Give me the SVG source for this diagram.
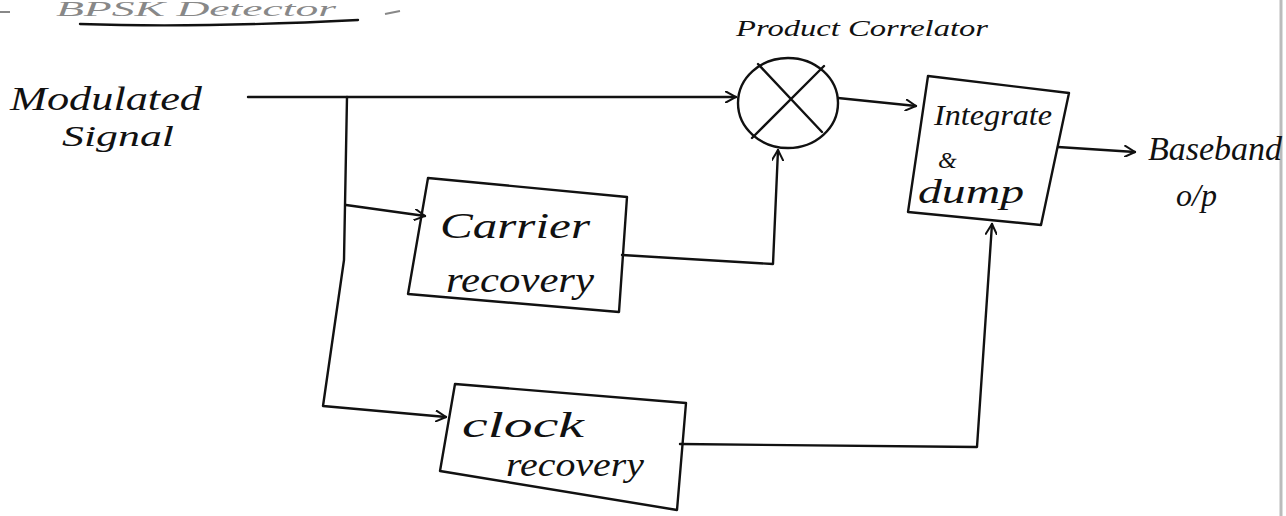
<svg xmlns="http://www.w3.org/2000/svg" width="1286" height="516" viewBox="0 0 1286 516">
<style>
.ln{fill:none;stroke:#111;stroke-width:2.4;stroke-linecap:round;stroke-linejoin:round}
.box{fill:none;stroke:#111;stroke-width:2.4;stroke-linejoin:round}
.t{font-family:"Liberation Serif",serif;font-style:italic;fill:#111}
.g{fill:#888}
</style>
<defs>
<marker id="ah" viewBox="0 0 12 12" refX="11" refY="6" markerWidth="12" markerHeight="12" markerUnits="userSpaceOnUse" orient="auto">
<path d="M0,0 L11,6 L0,12" fill="none" stroke="#111" stroke-width="2"/>
</marker>
</defs>
<rect x="0" y="0" width="1286" height="516" fill="#fff"/>
<line x1="1281" y1="0" x2="1281" y2="516" stroke="#bbb" stroke-width="3"/>
<g id="title">
<text class="t g" x="56" y="16" font-size="20" textLength="280" lengthAdjust="spacingAndGlyphs">BPSK Detector</text>
<path d="M0,12 L10,12 M385,14 L400,11" stroke="#888" stroke-width="2"/>
<path d="M80,24 Q200,28 358,20" class="ln" stroke-width="2"/>
</g>
<g id="input-label">
<text class="t" x="10" y="110" font-size="34" fill="#777" textLength="192" lengthAdjust="spacingAndGlyphs">Modulated</text>
<text class="t" x="62" y="146" font-size="30" textLength="112" lengthAdjust="spacingAndGlyphs">Signal</text>
</g>
<g id="product-correlator">
<ellipse cx="788" cy="103" rx="50" ry="45" class="box"/>
<path d="M758,64 L822,132 M824,66 L752,138" class="ln"/>
<text class="t" x="736" y="36" font-size="24" textLength="252" lengthAdjust="spacingAndGlyphs">Product Correlator</text>
</g>
<g id="carrier-recovery">
<path d="M428,178 L627,197 L619,312 L408,294 Z" class="box"/>
<text class="t" x="440" y="238" font-size="36" textLength="150" lengthAdjust="spacingAndGlyphs">Carrier</text>
<text class="t" x="446" y="292" font-size="36" textLength="148" lengthAdjust="spacingAndGlyphs">recovery</text>
</g>
<g id="clock-recovery">
<path d="M455,384 L686,403 L677,510 L440,471 Z" class="box"/>
<text class="t" x="462" y="437" font-size="36" textLength="122" lengthAdjust="spacingAndGlyphs">clock</text>
<text class="t" x="506" y="476" font-size="34" textLength="138" lengthAdjust="spacingAndGlyphs">recovery</text>
</g>
<g id="integrate-dump">
<path d="M928,76 L1069,93 L1041,225 L908,212 Z" class="box"/>
<text class="t" x="934" y="125" font-size="30" textLength="118" lengthAdjust="spacingAndGlyphs">Integrate</text>
<text class="t" x="938" y="168" font-size="24">&amp;</text>
<text class="t" x="918" y="203" font-size="34" textLength="106" lengthAdjust="spacingAndGlyphs">dump</text>
</g>
<g id="output-label">
<text class="t" x="1148" y="160" font-size="34">Baseband</text>
<text class="t" x="1176" y="206" font-size="32">o/p</text>
</g>
<g id="connectors">
<path d="M248,97 L736,97" class="ln" marker-end="url(#ah)"/>
<path d="M347,97 L344,260 L323,406 L446,417" class="ln" marker-end="url(#ah)"/>
<path d="M346,205 L425,216" class="ln" marker-end="url(#ah)"/>
<path d="M622,255 L773,264 L778,150" class="ln" marker-end="url(#ah)"/>
<path d="M838,98 L916,106" class="ln" marker-end="url(#ah)"/>
<path d="M1058,147 L1135,152" class="ln" marker-end="url(#ah)"/>
<path d="M680,444 L977,447 L992,224" class="ln" marker-end="url(#ah)"/>
</g>
</svg>
